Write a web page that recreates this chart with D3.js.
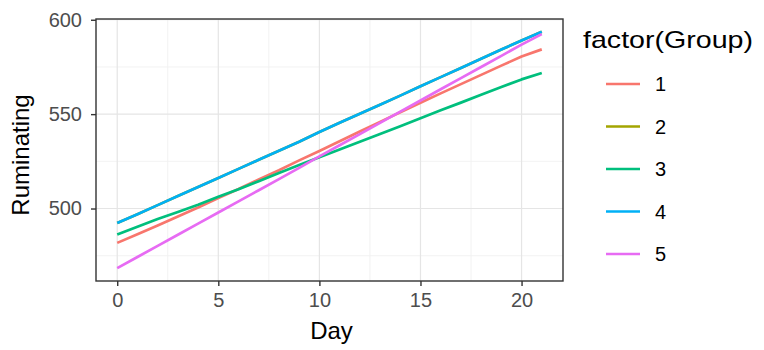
<!DOCTYPE html>
<html>
<head>
<meta charset="utf-8">
<script src="https://cdn.jsdelivr.net/npm/d3@7"></script>
<style>
  html, body { margin: 0; padding: 0; background: #fff; }
  svg { display: block; font-family: "Liberation Sans", Arial, sans-serif; }
</style>
</head>
<body>
<svg id="chart" width="764" height="350"></svg>
<script>
const days = [0,1,2,3,4,5,6,7,8,9,10,11,12,13,14,15,16,17,18,19,20,21];
const groups = ["1","2","3","4","5"];
const group1 = [481.8,486.4,491.0,495.8,500.5,505.5,510.3,515.4,520.3,525.5,530.5,535.6,540.8,545.9,551.0,556.0,561.0,565.9,570.8,575.7,580.5,584.3];
const group2 = [492.3,497.0,501.8,506.6,511.4,516.2,521.0,525.8,530.6,535.4,540.5,545.4,550.2,555.0,559.8,564.8,569.6,574.4,579.3,584.2,589.0,593.6];
const group3 = [486.2,490.3,494.4,498.2,502.0,506.2,510.2,514.5,518.8,523.0,527.2,531.3,535.4,539.5,543.6,547.8,552.0,556.1,560.3,564.4,568.4,571.8];
const group4 = [492.3,497.0,501.8,506.6,511.4,516.2,521.0,525.8,530.6,535.4,540.5,545.4,550.2,555.0,559.8,564.8,569.6,574.4,579.3,584.2,589.0,593.6];
const group5 = [468.4,474.3,480.2,486.1,492.0,497.9,503.8,509.7,515.6,521.5,527.6,533.5,539.4,545.4,551.3,557.2,563.2,569.1,575.0,580.9,586.8,592.4];
const xTicks = [0,5,10,15,20];
const yTicks = [500,550,600];
const xMinor = [2.5,7.5,12.5,17.5];
const yMinor = [475,525,575];
const colors = ["#F8766D","#A3A500","#00BF7D","#00B0F6","#E76BF3"];

const seriesValues = [group1, group2, group3, group4, group5];
const series = groups.map((g, i) => ({
  name: g,
  color: colors[i],
  points: days.map((d, j) => ({ x: d, y: seriesValues[i][j] }))
}));

const svg = d3.select("#chart");
const panel = { left: 96, right: 563, top: 19, bottom: 281 };

const x = d3.scaleLinear().domain([-1.05, 22.05]).range([panel.left, panel.right]);
const y = d3.scaleLinear().domain([461.6, 600.4]).range([panel.bottom, panel.top]);

svg.append("rect")
  .attr("x", panel.left).attr("y", panel.top)
  .attr("width", panel.right - panel.left).attr("height", panel.bottom - panel.top)
  .attr("fill", "#fff");

const grid = svg.append("g");
grid.selectAll("line.xminor").data(xMinor).enter().append("line")
  .attr("x1", d => x(d)).attr("x2", d => x(d))
  .attr("y1", panel.top).attr("y2", panel.bottom)
  .attr("stroke", "#F0F0F0").attr("stroke-width", 0.9);
grid.selectAll("line.yminor").data(yMinor).enter().append("line")
  .attr("y1", d => y(d)).attr("y2", d => y(d))
  .attr("x1", panel.left).attr("x2", panel.right)
  .attr("stroke", "#F0F0F0").attr("stroke-width", 0.9);
grid.selectAll("line.xmajor").data(xTicks).enter().append("line")
  .attr("x1", d => x(d)).attr("x2", d => x(d))
  .attr("y1", panel.top).attr("y2", panel.bottom)
  .attr("stroke", "#E5E5E5").attr("stroke-width", 1.2);
grid.selectAll("line.ymajor").data(yTicks).enter().append("line")
  .attr("y1", d => y(d)).attr("y2", d => y(d))
  .attr("x1", panel.left).attr("x2", panel.right)
  .attr("stroke", "#E5E5E5").attr("stroke-width", 1.2);

const line = d3.line().x(d => x(d.x)).y(d => y(d.y));
svg.append("g").selectAll("path").data(series).enter().append("path")
  .attr("d", d => line(d.points))
  .attr("fill", "none")
  .attr("stroke", d => d.color)
  .attr("stroke-width", 2.7)
  .attr("stroke-linejoin", "round");

svg.append("rect")
  .attr("x", panel.left).attr("y", panel.top)
  .attr("width", panel.right - panel.left).attr("height", panel.bottom - panel.top)
  .attr("fill", "none").attr("stroke", "#333333").attr("stroke-width", 1.4);

const xAxis = d3.axisBottom(x).tickValues(xTicks).tickSize(5).tickPadding(7).tickFormat(d3.format("d"));
const yAxis = d3.axisLeft(y).tickValues(yTicks).tickSize(5).tickPadding(9).tickFormat(d3.format("d"));

const gx = svg.append("g").attr("transform", `translate(0,${panel.bottom})`).call(xAxis);
const gy = svg.append("g").attr("transform", `translate(${panel.left},0)`).call(yAxis);
[gx, gy].forEach(g => {
  g.select(".domain").remove();
  g.selectAll(".tick line").attr("stroke", "#333333").attr("stroke-width", 1.4);
  g.selectAll(".tick text").attr("fill", "#4D4D4D")
    .style("font-size", "20px").style("font-family", "Liberation Sans, Arial, sans-serif");
});

svg.append("text")
  .attr("x", (panel.left + panel.right) / 2 + 2).attr("y", 339)
  .attr("text-anchor", "middle")
  .style("font-size", "24px").attr("fill", "#000")
  .text("Day");
svg.append("text")
  .attr("transform", `translate(29,${(panel.top + panel.bottom) / 2 + 5}) rotate(-90)`)
  .attr("text-anchor", "middle")
  .style("font-size", "24px").attr("fill", "#000")
  .text("Ruminating");

const legend = svg.append("g");
legend.append("text")
  .attr("x", 583).attr("y", 48)
  .attr("textLength", 170).attr("lengthAdjust", "spacingAndGlyphs")
  .style("font-size", "24px").attr("fill", "#000")
  .text("factor(Group)");
const items = legend.selectAll("g.item").data(series).enter().append("g")
  .attr("transform", (d, i) => `translate(0,${84 + i * 42.5})`);
items.append("line")
  .attr("x1", 606).attr("x2", 640).attr("y1", 0).attr("y2", 0)
  .attr("stroke", d => d.color).attr("stroke-width", 2.7);
items.append("text")
  .attr("x", 655).attr("y", 0).attr("dy", "0.36em")
  .style("font-size", "20px").attr("fill", "#000")
  .text(d => d.name);
</script>
</body>
</html>
